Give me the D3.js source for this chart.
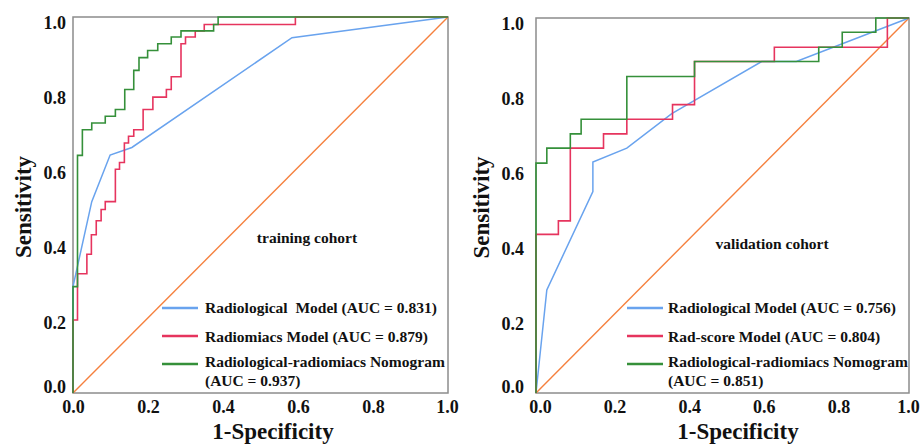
<!doctype HTML>
<html>
<head>
    <script src="https://d3js.org/d3.v7.min.js"></script>
    <style>
        body { margin: 0; background: #fff; }
        text { font-family: "Liberation Serif", "Times New Roman", serif; font-weight: bold; fill: #111; }
    </style>
</head>
<body>
<script>
    var canvasWidth = 922;
    var canvasHeight = 448;

    // tick values shared by both axes
    var tickValues = [0, 0.2, 0.4, 0.6, 0.8, 1.0];

    // training cohort (points are [1-specificity, sensitivity])
    var trainRadiological = [[0,0],[0,0.283],[0.05,0.509],[0.099,0.633],[0.157,0.653],[0.584,0.945],[1,1]];
    var trainRadiomics = [[0,0],[0,0.194],[0.012,0.317],[0.037,0.369],[0.049,0.421],[0.062,0.458],
        [0.075,0.488],[0.086,0.509],[0.113,0.595],[0.124,0.613],[0.137,0.665],[0.148,0.683],
        [0.162,0.700],[0.187,0.754],[0.213,0.787],[0.249,0.807],[0.262,0.841],[0.288,0.929],
        [0.300,0.947],[0.326,0.963],[0.350,0.980],[0.593,1],[1,1]];
    var trainNomogram = [[0,0],[0,0.283],[0.012,0.632],[0.025,0.700],[0.050,0.718],[0.086,0.736],
        [0.113,0.754],[0.138,0.807],[0.162,0.858],[0.176,0.892],[0.199,0.911],[0.226,0.929],
        [0.262,0.947],[0.288,0.963],[0.375,0.980],[0.387,1],[1,1]];
    var trainLabels = ["Radiological  Model (AUC = 0.831)", "Radiomiacs Model (AUC = 0.879)",
        "Radiological-radiomiacs Nomogram", "(AUC = 0.937)"];

    // validation cohort
    var validRadiological = [[0,0],[0.029,0.275],[0.1525,0.537],[0.1525,0.616],[0.2435,0.653],
        [0.364,0.745],[0.605,0.884],[0.698,0.884],[1,1]];
    var validRadscore = [[0,0],[0,0.423],[0.060,0.459],[0.092,0.653],[0.181,0.691],[0.2435,0.730],
        [0.366,0.769],[0.425,0.884],[0.639,0.922],[0.942,1],[1,1]];
    var validNomogram = [[0,0],[0,0.613],[0.029,0.653],[0.092,0.691],[0.121,0.730],[0.2435,0.844],
        [0.425,0.884],[0.758,0.922],[0.821,0.962],[0.911,1],[1,1]];
    var validLabels = ["Radiological Model (AUC = 0.756)", "Rad-score Model (AUC = 0.804)",
        "Radiological-radiomiacs Nomogram", "(AUC = 0.851)"];

    var diagonal = [[0,0],[1,1]];

    var blue = "#69a3ee", red = "#e6345e", green = "#35903a", orange = "#f5803e";

    var svg = d3.select("body").append("svg")
        .attr("width", canvasWidth)
        .attr("height", canvasHeight);

    var panels = [
        {left: 73, right: 448, top: 17, bottom: 393, curves: [trainRadiological, trainRadiomics, trainNomogram],
         labels: trainLabels, cohort: "training cohort", cohortX: 307, cohortY: 243,
         legendX: 162, textX: 205, yLabelX: 23, xTitleX: 273, tickRight: 66, xTickOff: 0},
        {left: 536, right: 909, top: 18, bottom: 393, curves: [validRadiological, validRadscore, validNomogram],
         labels: validLabels, cohort: "validation cohort", cohortX: 772, cohortY: 249,
         legendX: 627, textX: 668, yLabelX: 481, xTitleX: 738, tickRight: 524, xTickOff: 4}
    ];

    panels.forEach(function(p) {
        var x = d3.scaleLinear().domain([0, 1]).range([p.left, p.right]);
        var y = d3.scaleLinear().domain([0, 1]).range([p.bottom, p.top]);
        var g = svg.append("g");

        // frame
        g.append("rect")
            .attr("x", p.left).attr("y", p.top)
            .attr("width", p.right - p.left).attr("height", p.bottom - p.top)
            .attr("fill", "none").attr("stroke", "#8c8c8c").attr("stroke-width", 1.5);

        // x axis labels (no tick marks)
        var xAxis = g.append("g")
            .attr("transform", "translate(0," + p.bottom + ")")
            .call(d3.axisBottom(x).tickValues(tickValues).tickFormat(d3.format(".1f")).tickSize(0).tickPadding(4));
        xAxis.select(".domain").remove();
        xAxis.selectAll("text").attr("font-size", "18px").attr("dy", "0.9em")
            .attr("dx", function(d) { return d < 1 ? p.xTickOff : -1; })
            .style("font-family", "'Liberation Serif', serif");

        // y axis labels
        var yAxis = g.append("g")
            .attr("transform", "translate(" + p.tickRight + ",0)")
            .call(d3.axisLeft(y).tickValues(tickValues).tickFormat(d3.format(".1f")).tickSize(0).tickPadding(0));
        yAxis.select(".domain").remove();
        yAxis.selectAll("text").attr("font-size", "18px")
            .style("font-family", "'Liberation Serif', serif")
            .attr("dy", function(d) { return d === 0 ? "-0.05em" : "0.62em"; });

        // axis titles
        g.append("text")
            .attr("transform", "translate(" + p.yLabelX + "," + ((p.top + p.bottom) / 2 + 2) + ") rotate(-90)")
            .attr("text-anchor", "middle")
            .attr("dy", "0.35em")
            .attr("font-size", "23px")
            .text("Sensitivity");
        g.append("text")
            .attr("x", p.xTitleX).attr("y", 439)
            .attr("text-anchor", "middle")
            .attr("font-size", "23px")
            .text("1-Specificity");

        // reference diagonal
        var linear = d3.line().x(function(d) { return x(d[0]); }).y(function(d) { return y(d[1]); });
        var step = d3.line().x(function(d) { return x(d[0]); }).y(function(d) { return y(d[1]); })
            .curve(d3.curveStepAfter);

        g.append("path").attr("d", linear(diagonal))
            .attr("fill", "none").attr("stroke", orange).attr("stroke-width", 1.4);

        g.append("path").attr("d", linear(p.curves[0]))
            .attr("fill", "none").attr("stroke", blue).attr("stroke-width", 1.5);
        g.append("path").attr("d", step(p.curves[1]))
            .attr("fill", "none").attr("stroke", red).attr("stroke-width", 1.6);
        g.append("path").attr("d", step(p.curves[2]))
            .attr("fill", "none").attr("stroke", green).attr("stroke-width", 1.6);

        // cohort label
        g.append("text")
            .attr("x", p.cohortX).attr("y", p.cohortY)
            .attr("text-anchor", "middle")
            .attr("font-size", "15.5px")
            .text(p.cohort);

        // legend
        var rows = [308, 336, 364];
        var colors = [blue, red, green];
        rows.forEach(function(ry, i) {
            g.append("line")
                .attr("x1", p.legendX).attr("x2", p.legendX + 36)
                .attr("y1", ry).attr("y2", ry)
                .attr("stroke", colors[i]).attr("stroke-width", 2.5);
        });
        var baselines = [313, 341.5, 367, 385.5];
        p.labels.forEach(function(t, i) {
            g.append("text")
                .attr("x", p.textX).attr("y", baselines[i])
                .attr("font-size", "15.5px")
                .attr("xml:space", "preserve")
                .style("white-space", "pre")
                .text(t);
        });
    });
</script>
</body>
</html>
